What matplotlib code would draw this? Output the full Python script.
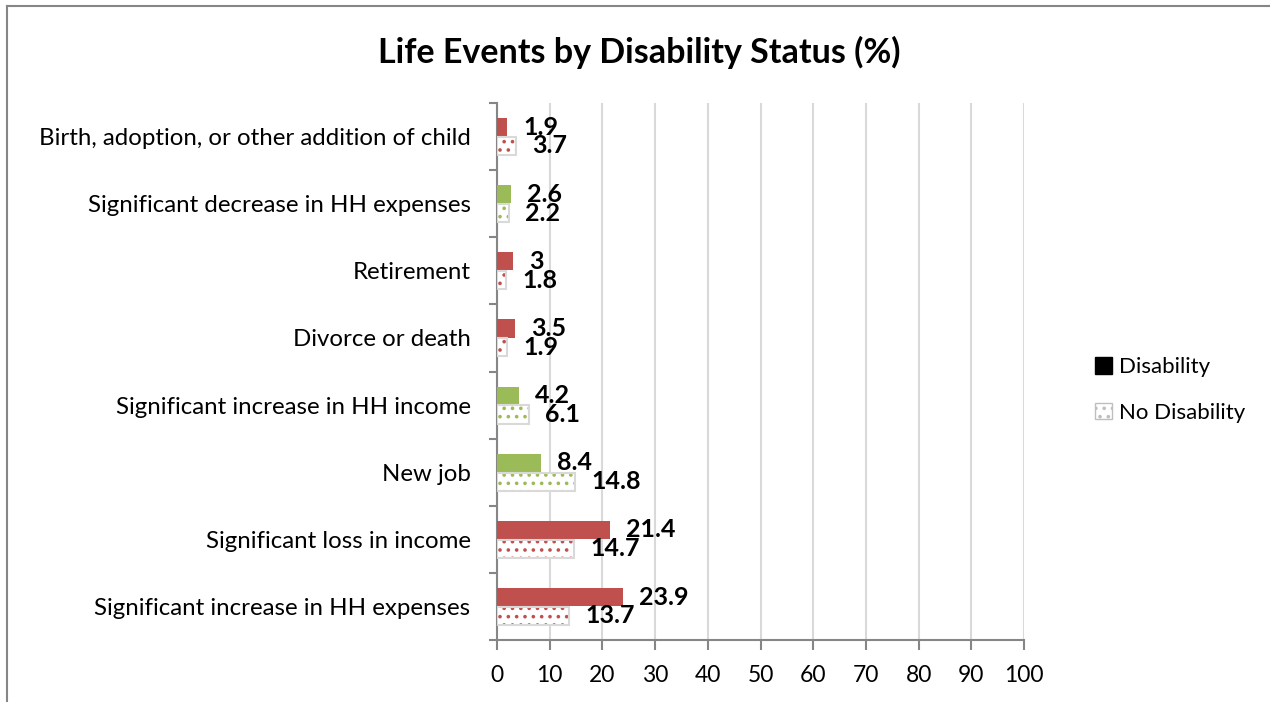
import matplotlib
matplotlib.use("Agg")
import matplotlib.pyplot as plt
from matplotlib.patches import Patch
from matplotlib.lines import Line2D
import numpy as np

categories = [
    "Significant increase in HH expenses",
    "Significant loss in income",
    "New job",
    "Significant increase in HH income",
    "Divorce or death",
    "Retirement",
    "Significant decrease in HH expenses",
    "Birth, adoption, or other addition of child",
]
disability = [23.9, 21.4, 8.4, 4.2, 3.5, 3.0, 2.6, 1.9]
no_disability = [13.7, 14.7, 14.8, 6.1, 1.9, 1.8, 2.2, 3.7]
disability_labels = ["23.9", "21.4", "8.4", "4.2", "3.5", "3", "2.6", "1.9"]
no_disability_labels = ["13.7", "14.7", "14.8", "6.1", "1.9", "1.8", "2.2", "3.7"]
bar_colors = ["#C0504D", "#C0504D", "#9BBB59", "#9BBB59", "#C0504D", "#C0504D", "#9BBB59", "#C0504D"]
xticks = [0, 10, 20, 30, 40, 50, 60, 70, 80, 90, 100]

plt.rcParams['font.family'] = ['Lato', 'DejaVu Sans']
plt.rcParams['hatch.linewidth'] = 1.4

fig = plt.figure(figsize=(12.7, 7.02), dpi=100)
ax = fig.add_axes([497/1270, 1-640/702, (1024-497)/1270, (640-103)/702])

y = np.arange(len(categories))
h = 0.27
off = 0.14

ax.barh(y + off, disability, height=h, color=bar_colors, zorder=3)
# hatched no-disability bars
ax.barh(y - off, no_disability, height=h, facecolor="white", edgecolor=bar_colors,
        hatch="..", linewidth=0, zorder=3)
ax.barh(y - off, no_disability, height=h, facecolor="none", edgecolor="#D9D9D9",
        linewidth=1.5, zorder=4)

for yi, v, lab in zip(y, disability, disability_labels):
    ax.annotate(lab, (v, yi + off), xytext=(11.5, 0), textcoords="offset points",
                ha="left", va="center", fontsize=18, fontweight="bold", zorder=5)
for yi, v, lab in zip(y, no_disability, no_disability_labels):
    ax.annotate(lab, (v, yi - off), xytext=(11.5, 0), textcoords="offset points",
                ha="left", va="center", fontsize=18, fontweight="bold", zorder=5)

ax.set_xlim(0, 100)
ax.set_ylim(-0.5, len(categories) - 0.5)
ax.set_xticks(xticks)
ax.set_xticklabels([str(t) for t in xticks], fontsize=16.5)
ax.set_yticks(y)
ax.set_yticklabels(categories, fontsize=17.3)
ax.set_yticks(np.arange(-0.5, len(categories), 1.0), minor=True)
ax.tick_params(axis="y", which="major", length=0, pad=19)
ax.tick_params(axis="y", which="minor", length=6, width=1.5, color="#868686", direction="out")
ax.tick_params(axis="x", which="major", length=7, width=1.5, color="#868686", direction="out", pad=11)
ax.grid(axis="x", color="#D9D9D9", linewidth=1.5, zorder=0)
ax.set_axisbelow(True)
for s in ["top", "right"]:
    ax.spines[s].set_visible(False)
for s in ["left", "bottom"]:
    ax.spines[s].set_color("#868686")
    ax.spines[s].set_linewidth(1.5)

fig.text(639/1270, 1-52/702, "Life Events by Disability Status (%)", ha="center", va="center",
         fontsize=24.5, fontweight="bold")

handles = [
    Patch(facecolor="black", edgecolor="black"),
    Patch(facecolor="white", edgecolor="#BFBFBF", hatch="..", linewidth=1),
]
leg = fig.legend(handles, ["Disability", "No Disability"], loc="center left",
                 bbox_to_anchor=(1075/1270, 1-390/702), frameon=False, fontsize=16,
                 handlelength=0.75, handleheight=0.75, labelspacing=1.15, handletextpad=0.35)
for t in leg.get_texts():
    t.set_color("black")

# outer border (top and left)
fig.add_artist(Line2D([7/1270, 1.0], [1-6/702, 1-6/702], color="#868686", linewidth=1.5))
fig.add_artist(Line2D([7/1270, 7/1270], [0, 1-6/702], color="#868686", linewidth=1.5))

fig.savefig("out.png", dpi=100)
